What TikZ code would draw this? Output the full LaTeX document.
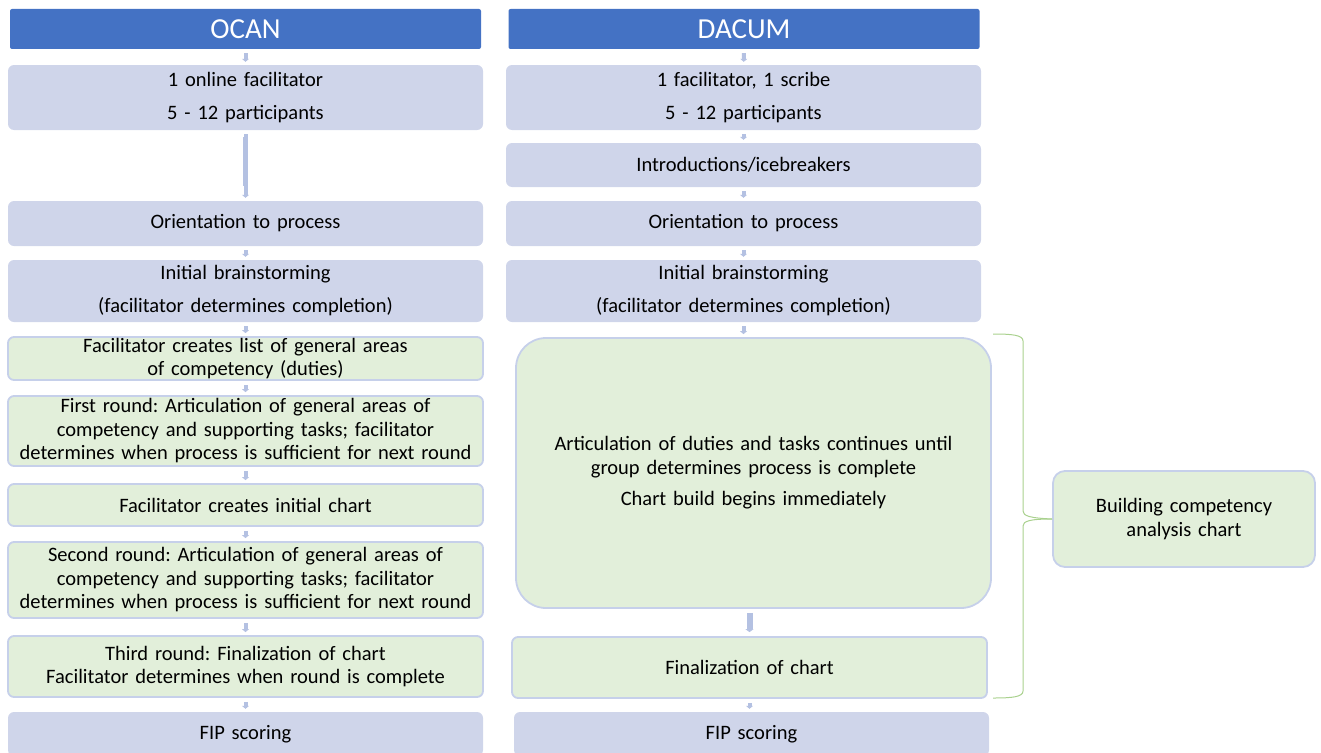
\documentclass[tikz,border=0pt]{standalone}
\usepackage{fontspec}
\setmainfont{Carlito}
\usetikzlibrary{arrows.meta}
\definecolor{hdrblue}{HTML}{4472C4}
\definecolor{lav}{HTML}{CFD5EA}
\definecolor{pale}{HTML}{E2EFDA}
\definecolor{rim}{HTML}{C6D0EA}
\definecolor{arr}{HTML}{B4C1E2}
\definecolor{brace}{HTML}{A9D18E}
\tikzset{
  base/.style={rectangle, inner sep=0pt, align=center, text width=466pt,
    minimum width=475pt, font=\fontsize{20.5}{23.5}\selectfont\frenchspacing},
  header/.style={base, fill=hdrblue, text=white, rounded corners=2pt,
    minimum width=471pt, minimum height=40pt, font=\fontsize{29}{32}\selectfont},
  lavbox/.style={base, fill=lav, rounded corners=6pt},
  greenbox/.style={base, fill=pale, draw=rim, line width=1.8pt, rounded corners=6pt},
  tiny/.style={draw=arr, line width=4pt, -{Triangle[width=7pt,length=3pt]},
    shorten <=4pt, shorten >=3pt},
  shaft/.style={draw=arr, line width=5pt},
  fat/.style={draw=arr, line width=6pt, -{Triangle[width=8pt,length=3pt]},
    shorten <=4pt, shorten >=4pt},
  bracket/.style={draw=brace, line width=1pt}
}
\begin{document}
\begin{tikzpicture}[x=1pt,y=-1pt]
\useasboundingbox (0,0) rectangle (1321,752);

% ---------- OCAN column ----------
\node[header] (lh) at (245.5,29) {OCAN};
\node[lavbox, minimum height=65pt] (l1) at (245.5,97.5)
  {1 online facilitator\\[9.5pt]5 - 12 participants};
\node[lavbox, minimum height=45pt] (l2) at (245.5,223.5) {Orientation to process};
\node[lavbox, minimum height=62pt] (l3) at (245.5,291)
  {Initial brainstorming\\[9.5pt](facilitator determines completion)};
\node[greenbox, minimum height=43pt] (l4) at (245.5,358.5)
  {Facilitator creates list of general areas\\of competency (duties)};
\node[greenbox, minimum height=70pt] (l5) at (245.5,431)
  {First round: Articulation of general areas of\\competency and supporting tasks; facilitator\\determines when process is sufficient for next round};
\node[greenbox, minimum height=42pt] (l6) at (245.5,505) {Facilitator creates initial chart};
\node[greenbox, minimum height=76pt] (l7) at (245.5,580)
  {Second round: Articulation of general areas of\\competency and supporting tasks; facilitator\\determines when process is sufficient for next round};
\node[greenbox, minimum height=61pt] (l8) at (245.5,666.5)
  {Third round: Finalization of chart\\Facilitator determines when round is complete};
\node[lavbox, minimum height=44pt] (l9) at (245.5,734) {FIP scoring};

\draw[tiny] (lh) -- (l1);
\draw[shaft, shorten <=7pt, shorten >=15pt] (l1) -- (l2);
\draw[tiny] (l1) -- (l2);
\draw[tiny] (l2) -- (l3);
\draw[tiny] (l3) -- (l4);
\draw[tiny] (l4) -- (l5);
\draw[tiny] (l5) -- (l6);
\draw[tiny] (l6) -- (l7);
\draw[tiny] (l7) -- (l8);
\draw[tiny] (l8) -- (l9);

% ---------- DACUM column ----------
\node[header] (rh) at (744,29) {DACUM};
\node[lavbox, minimum height=65pt] (r1) at (743.5,97.5)
  {1 facilitator, 1 scribe\\[9.5pt]5 - 12 participants};
\node[lavbox, minimum height=44pt] (r2) at (743.5,165) {Introductions/icebreakers};
\node[lavbox, minimum height=45pt] (r3) at (743.5,223.5) {Orientation to process};
\node[lavbox, minimum height=62pt] (r4) at (743.5,291)
  {Initial brainstorming\\[9.5pt](facilitator determines completion)};
\node[greenbox, minimum height=270pt, rounded corners=30pt] (r5) at (753.5,473)
  {Articulation of duties and tasks continues until\\group determines process is complete\\[8pt]Chart build begins immediately};
\node[greenbox, minimum height=61pt] (r6) at (749.5,667.5) {Finalization of chart};
\node[lavbox, minimum height=44pt] (r7) at (751.5,734) {FIP scoring};

\draw[tiny] (rh) -- (r1);
\draw[tiny] (r1) -- (r2);
\draw[tiny] (r2) -- (r3);
\draw[tiny] (r3) -- (r4);
\draw[tiny] (r4.south) -- (r4.south |- r5.north);
\draw[fat] (r6.north |- r5.south) -- (r6.north);
\draw[tiny] (r6.south) -- (r6.south |- r7.north);

% ---------- bracket and summary box ----------
\node[greenbox, text width=250pt, minimum width=262pt, minimum height=96pt,
  rounded corners=12pt] (bc) at (1184,519)
  {Building competency\\analysis chart};
\coordinate (btop) at (993,334);
\coordinate (bbot) at (993,698);
\draw[bracket] (btop) .. controls (1012,334) and (1023,335) .. (1023,341)
  -- (1023,511) .. controls (1023,516) and (1030,518) .. (bc.west);
\draw[bracket] (bc.west) .. controls (1030,519) and (1023,521) .. (1023,526)
  -- (1023,691) .. controls (1023,697) and (1012,698) .. (bbot);
\end{tikzpicture}
\end{document}
